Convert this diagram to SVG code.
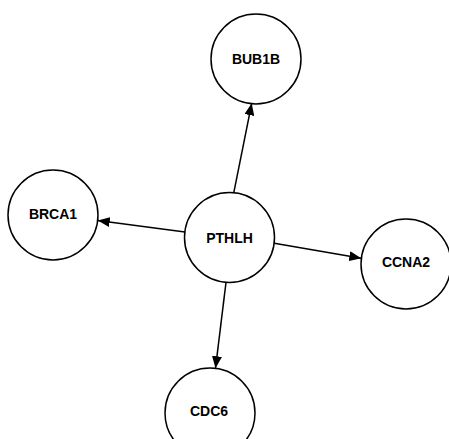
<svg xmlns="http://www.w3.org/2000/svg" width="449" height="439" viewBox="0 0 449 439">
<style>
.node circle{fill:#fff;stroke:#000;stroke-width:1.5}
.node text{font-family:"Liberation Sans",Arial,sans-serif;font-weight:bold;font-size:14px;text-anchor:middle;dominant-baseline:central;fill:#000}
.edges line{stroke:#000;stroke-width:1.5}
</style>
<defs>
<marker id="arr" viewBox="0 0 12 10" refX="12" refY="5" markerWidth="12" markerHeight="10" markerUnits="userSpaceOnUse" orient="auto">
<path d="M0,0 L12,5 L0,10 Z" fill="#000"/>
</marker>
</defs>
<rect width="449" height="439" fill="#fff"/>
<g class="edges">
<line x1="233.8" y1="192.7" x2="251.7" y2="103.3" marker-end="url(#arr)"/>
<line x1="184.9" y1="232.0" x2="97.8" y2="220.5" marker-end="url(#arr)"/>
<line x1="274.3" y1="243.2" x2="361.3" y2="258.3" marker-end="url(#arr)"/>
<line x1="226.0" y1="282.3" x2="215.5" y2="368.2" marker-end="url(#arr)"/>
</g>
<g id="BUB1B" class="node"><circle cx="256" cy="59" r="45"/><text x="256" y="59">BUB1B</text></g>
<g id="BRCA1" class="node"><circle cx="53" cy="215" r="45"/><text x="53" y="214">BRCA1</text></g>
<g id="PTHLH" class="node"><circle cx="229.5" cy="237.5" r="45"/><text x="229.5" y="237.5">PTHLH</text></g>
<g id="CCNA2" class="node"><circle cx="406" cy="264" r="45"/><text x="406" y="262">CCNA2</text></g>
<g id="CDC6" class="node"><circle cx="210" cy="413" r="45"/><text x="209" y="411">CDC6</text></g>
</svg>
